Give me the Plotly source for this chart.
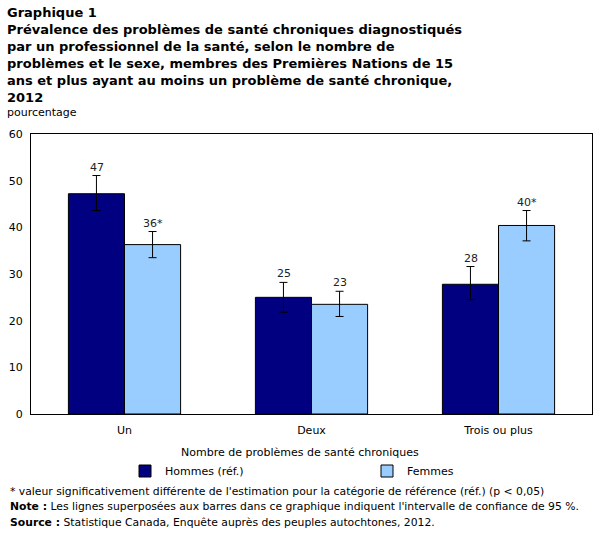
import plotly.graph_objects as go

categories = ["Un", "Deux", "Trois ou plus"]
hommes = [47.2, 25.0, 27.8]
hommes_hi = [51.1, 28.2, 31.6]
hommes_lo = [43.6, 21.8, 24.5]
femmes = [36.3, 23.5, 40.4]
femmes_hi = [39.1, 26.3, 43.6]
femmes_lo = [33.5, 20.9, 37.1]
hommes_labels = ["47", "25", "28"]
femmes_labels = ["36*", "23", "40*"]

W, H = 606, 533
L, R, T, B = 31, 14, 134, 119
font_main = "DejaVu Sans"

fig = go.Figure()
fig.add_trace(go.Bar(
    name="Hommes (réf.)", x=categories, y=hommes, legend="legend", showlegend=True,
    marker=dict(color="#000080", line=dict(color="black", width=1)),
    error_y=dict(type="data", symmetric=False,
                 array=[h - v for h, v in zip(hommes_hi, hommes)],
                 arrayminus=[v - l for l, v in zip(hommes_lo, hommes)],
                 color="black", thickness=1, width=4),
))
fig.add_trace(go.Bar(
    name="Femmes", x=categories, y=femmes, legend="legend2", showlegend=True,
    marker=dict(color="#99CCFF", line=dict(color="black", width=1)),
    error_y=dict(type="data", symmetric=False,
                 array=[h - v for h, v in zip(femmes_hi, femmes)],
                 arrayminus=[v - l for l, v in zip(femmes_lo, femmes)],
                 color="black", thickness=1, width=4),
))

annotations = []
for c, hi, lab in zip(categories, hommes_hi, hommes_labels):
    annotations.append(dict(x=c, y=hi, xref="x", yref="y", text=lab, showarrow=False,
                            xshift=-28, yanchor="bottom", yshift=0,
                            font=dict(family=font_main, size=11, color="#222")))
for c, hi, lab in zip(categories, femmes_hi, femmes_labels):
    annotations.append(dict(x=c, y=hi, xref="x", yref="y", text=lab, showarrow=False,
                            xshift=28, yanchor="bottom", yshift=0,
                            font=dict(family=font_main, size=11, color="#222")))

def px_x(px):
    return (px - L) / (W - L - R)

def px_y(py):
    return (H - B - py) / (H - T - B)

annotations.append(dict(
    text="<b>Graphique 1<br>Prévalence des problèmes de santé chroniques diagnostiqués<br>"
         "par un professionnel de la santé, selon le nombre de<br>"
         "problèmes et le sexe, membres des Premières Nations de 15<br>"
         "ans et plus ayant au moins un problème de santé chronique,<br>2012</b>",
    x=px_x(5), y=px_y(3), xref="paper", yref="paper", xanchor="left", yanchor="top",
    align="left", showarrow=False, font=dict(family=font_main, size=13, color="black")))
annotations.append(dict(text="pourcentage", x=px_x(5), y=px_y(112), xref="paper", yref="paper",
                        xanchor="left", yanchor="middle", showarrow=False,
                        font=dict(family=font_main, size=11, color="black")))
annotations.append(dict(text="Nombre de problèmes de santé chroniques", x=px_x(300), y=px_y(452),
                        xref="paper", yref="paper", xanchor="center", yanchor="middle",
                        showarrow=False, font=dict(family=font_main, size=11, color="black")))
foot = [
    "* valeur significativement différente de l'estimation pour la catégorie de référence (réf.) (p < 0,05)",
    "<b>Note :</b> Les lignes superposées aux barres dans ce graphique indiquent l'intervalle de confiance de 95 %.",
    "<b>Source :</b> Statistique Canada, Enquête auprès des peuples autochtones, 2012.",
]
for i, t in enumerate(foot):
    annotations.append(dict(text=t, x=px_x(8), y=px_y(491 + 15.5 * i), xref="paper", yref="paper",
                            xanchor="left", yanchor="middle", showarrow=False,
                            font=dict(family=font_main, size=10.8, color="black")))

leg_common = dict(orientation="h", xanchor="left", yanchor="middle", itemwidth=30,
                  font=dict(family=font_main, size=11), bgcolor="rgba(0,0,0,0)")

fig.update_layout(
    width=W, height=H, showlegend=True,
    margin=dict(l=L, r=R, t=T, b=B, pad=0, autoexpand=False),
    paper_bgcolor="white", plot_bgcolor="white",
    barmode="group", bargap=0.4, bargroupgap=0,
    font=dict(family=font_main, size=11, color="black"),
    xaxis=dict(showline=True, linecolor="black", linewidth=1, mirror=True, automargin=False,
               ticks="", showgrid=False, tickfont=dict(size=11), ticklabelstandoff=6),
    yaxis=dict(range=[0, 60], dtick=10, showline=True, linecolor="black", linewidth=1,
               mirror=True, ticks="", showgrid=False, zeroline=False, tickfont=dict(size=11),
               ticklabelstandoff=5, automargin=False),
    legend=dict(x=px_x(125), y=px_y(471), **leg_common),
    legend2=dict(x=px_x(367), y=px_y(471), **leg_common),
    annotations=annotations,
)

fig.write_html("out.html")
